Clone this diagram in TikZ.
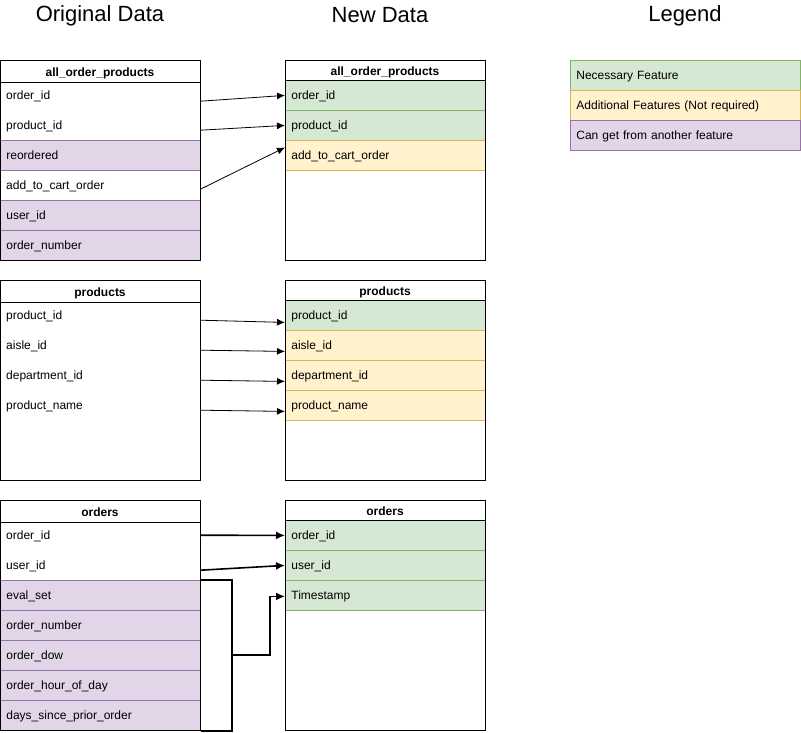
\documentclass[tikz,border=0pt]{standalone}
\usepackage{fontspec}
\setmainfont{Liberation Sans}
\usetikzlibrary{arrows.meta}
\definecolor{gfill}{HTML}{D5E8D4}\definecolor{gline}{HTML}{82B366}
\definecolor{yfill}{HTML}{FFF2CC}\definecolor{yline}{HTML}{D6B656}
\definecolor{pfill}{HTML}{E1D5E7}\definecolor{pline}{HTML}{9673A6}
\begin{document}
\begin{tikzpicture}[x=1pt,y=-1pt,
  row/.style={anchor=north west, text width=188pt, inner xsep=6pt, inner ysep=0pt, minimum height=30pt, text height=11pt, text depth=3pt, align=left, font=\fontsize{12}{14}\selectfont},
  nec/.style={row, fill=gfill, draw=gline, line width=0.8pt},
  addf/.style={row, fill=yfill, draw=yline, line width=0.8pt},
  der/.style={row, fill=pfill, draw=pline, line width=0.8pt},
  tbl/.style={draw=black, line width=1pt},
  hdr/.style={font=\bfseries\fontsize{12}{14}\selectfont, anchor=center, text height=9pt, text depth=3pt, inner sep=0pt},
  title/.style={font=\fontsize{22}{26}\selectfont},
  lnk/.style={-{Latex[length=8pt,width=7pt]}, line width=0.8pt},
  blnk/.style={-{Latex[length=9pt,width=8pt]}, line width=1.6pt},
  brk/.style={line width=1.6pt}]
\useasboundingbox (0,0) rectangle (801,732);
% titles
\node[title] (t1) at (100,15.5) {Original Data};
\node[title] (t2) at (380,15.5) {New Data};
\node[title] (t3) at (685,15.5) {Legend};
% ---------- table 1 left
\node[row] (L1a) at (0,80) {order\_id};
\node[row] (L1b) at (0,110) {product\_id};
\node[der] (L1c) at (0,140) {reordered};
\node[row] (L1d) at (0,170) {add\_to\_cart\_order};
\node[der] (L1e) at (0,200) {user\_id};
\node[der] (L1f) at (0,230) {order\_number};
\draw[tbl] (0,60) rectangle (200,260);
\draw[tbl] (0,82) -- (200,82);
\node[hdr] (L1h) at (100,73) {all\_order\_products};
% ---------- table 1 right
\node[nec] (R1a) at (285,80) {order\_id};
\node[nec] (R1b) at (285,110) {product\_id};
\node[addf] (R1c) at (285,140) {add\_to\_cart\_order};
\draw[tbl] (285,60) rectangle (485,260);
\draw[tbl] (285,80) -- (485,80);
\node[hdr] (R1h) at (385,72) {all\_order\_products};
% ---------- table 2 left
\node[row] (L2a) at (0,300) {product\_id};
\node[row] (L2b) at (0,330) {aisle\_id};
\node[row] (L2c) at (0,360) {department\_id};
\node[row] (L2d) at (0,390) {product\_name};
\draw[tbl] (0,280) rectangle (200,480);
\draw[tbl] (0,302) -- (200,302);
\node[hdr] (L2h) at (100,293) {products};
% ---------- table 2 right
\node[nec] (R2a) at (285,300) {product\_id};
\node[addf] (R2b) at (285,330) {aisle\_id};
\node[addf] (R2c) at (285,360) {department\_id};
\node[addf] (R2d) at (285,390) {product\_name};
\draw[tbl] (285,280) rectangle (485,480);
\draw[tbl] (285,300) -- (485,300);
\node[hdr] (R2h) at (385,292) {products};
% ---------- table 3 left
\node[row] (L3a) at (0,520) {order\_id};
\node[row] (L3b) at (0,550) {user\_id};
\node[der] (L3c) at (0,580) {eval\_set};
\node[der] (L3d) at (0,610) {order\_number};
\node[der] (L3e) at (0,640) {order\_dow};
\node[der] (L3f) at (0,670) {order\_hour\_of\_day};
\node[der] (L3g) at (0,700) {days\_since\_prior\_order};
\draw[tbl] (0,500) rectangle (200,730);
\draw[tbl] (0,522) -- (200,522);
\node[hdr] (L3h) at (100,513) {orders};
% ---------- table 3 right
\node[nec] (R3a) at (285,520) {order\_id};
\node[nec] (R3b) at (285,550) {user\_id};
\node[nec] (R3c) at (285,580) {Timestamp};
\draw[tbl] (285,500) rectangle (485,730);
\draw[tbl] (285,520) -- (485,520);
\node[hdr] (R3h) at (385,512) {orders};
% ---------- legend
\node[nec, text width=218pt] (G1) at (570,60) {Necessary Feature};
\node[addf, text width=218pt] (G2) at (570,90) {Additional Features (Not required)};
\node[der, text width=218pt] (G3) at (570,120) {Can get from another feature};
% ---------- connectors
\draw[lnk] ([yshift=-6pt]L1a.east) -- (R1a.west);
\draw[lnk] ([yshift=-5pt]L1b.east) -- (R1b.west);
\draw[lnk] ([yshift=-4pt]L1d.east) -- ([yshift=8pt]R1c.west);
\draw[lnk] ([yshift=-5pt]L2a.east) -- ([yshift=-7pt]R2a.west);
\draw[lnk] ([yshift=-5pt]L2b.east) -- ([yshift=-6pt]R2b.west);
\draw[lnk] ([yshift=-5pt]L2c.east) -- ([yshift=-6pt]R2c.west);
\draw[lnk] ([yshift=-5pt]L2d.east) -- ([yshift=-6pt]R2d.west);
\draw[blnk] (L3a.east) -- (R3a.west);
\draw[blnk] ([yshift=-5pt]L3b.east) -- (R3b.west);
\draw[brk] (L3c.north east) -- ++(31,0) coordinate (bt) |- (L3g.south east);
\coordinate (bm) at (231,655);
\draw[blnk] (bm) -| ([xshift=-15pt,yshift=-1pt]R3c.west) -- ([yshift=-1pt]R3c.west);
\end{tikzpicture}
\end{document}
